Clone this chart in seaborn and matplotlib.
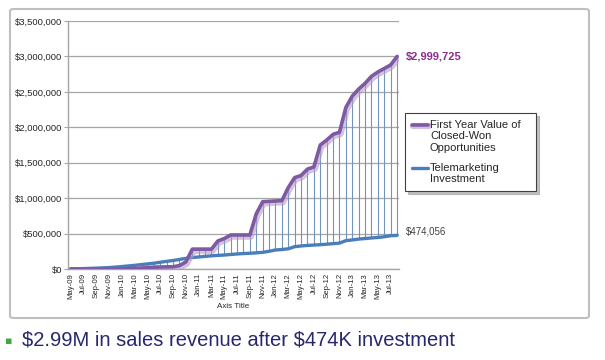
import matplotlib
matplotlib.use("Agg")
import matplotlib.pyplot as plt
import matplotlib.patheffects as pe
from matplotlib.patches import FancyBboxPatch
import numpy as np
import pandas as pd
import seaborn as sns

# monthly categories May-09 .. Aug-13
months = pd.date_range("2009-05-01", periods=52, freq="MS").strftime("%b-%y").tolist()

closed_won = [0, 0, 0, 0, 0, 0, 0, 0, 0, 5000,
              8000, 12000, 20000, 25000, 28000, 30000, 32000, 48000, 100000, 280000,
              280000, 280000, 280000, 395000, 430000, 480000, 480000, 480000, 480000, 780000,
              950000, 955000, 960000, 965000, 1150000, 1290000, 1320000, 1410000, 1440000, 1750000,
              1820000, 1900000, 1930000, 2280000, 2440000, 2540000, 2620000, 2720000, 2780000, 2830000,
              2880000, 2999725]

telemarketing = [0, 3000, 6000, 9000, 12000, 16000, 20000, 27000, 35000, 43000,
                 52000, 62000, 72000, 82000, 95000, 108000, 120000, 135000, 150000, 162000,
                 170000, 178000, 186000, 192000, 197000, 205000, 212000, 218000, 222000, 228000,
                 235000, 250000, 268000, 275000, 285000, 315000, 325000, 332000, 338000, 343000,
                 350000, 358000, 365000, 400000, 410000, 422000, 430000, 438000, 445000, 455000,
                 470000, 474056]

yticks = [0, 500000, 1000000, 1500000, 2000000, 2500000, 3000000, 3500000]

df = pd.DataFrame({"idx": np.arange(len(months)), "month": months,
                   "closed": closed_won, "tele": telemarketing})

sns.set_style("white")
plt.rcParams["font.family"] = ["Liberation Sans", "DejaVu Sans"]

fig = plt.figure(figsize=(6.05, 3.6), dpi=100)
fig.patch.set_facecolor("white")

# chart frame
frame = FancyBboxPatch((10 / 605, 1 - 318 / 360), 579 / 605, 309 / 360,
                       boxstyle="round,pad=0,rounding_size=0.006",
                       transform=fig.transFigure, facecolor="none",
                       edgecolor="#BFBFBF", linewidth=1.5, zorder=-1)
fig.patches.append(frame)

ax = fig.add_axes([68 / 605, 1 - 269 / 360, 331 / 605, 248 / 360])
ax.set_facecolor("none")

# high-low lines
ax.vlines(df["idx"], df["tele"], df["closed"], color="#6F95BE", linewidth=0.8, zorder=1)

sns.lineplot(data=df, x="idx", y="closed", ax=ax, color="#7E5AA2", linewidth=2.6,
             label="First Year Value of\nClosed-Won\nOpportunities", zorder=3,
             path_effects=[pe.SimpleLineShadow(offset=(0.8, -1.2), shadow_color="#B79BCB", alpha=0.6, linewidth=4.5),
                           pe.Normal()])
sns.lineplot(data=df, x="idx", y="tele", ax=ax, color="#4A7EBB", linewidth=2.4,
             label="Telemarketing\nInvestment", zorder=2)

ax.set_xlim(-0.42, 51.3)
ax.set_ylim(0, 3500000)
ax.set_yticks(yticks)
ax.set_yticklabels(["\\${:,.0f}".format(v) for v in yticks], fontsize=6.8, color="#262626")
ax.set_xticks(df["idx"][::2])
ax.set_xticklabels(df["month"][::2], rotation=90, fontsize=5.6, color="#262626")
ax.yaxis.grid(True, color="#A6A6A6", linewidth=0.9)
ax.xaxis.grid(False)
ax.tick_params(axis="y", length=3, width=0.8, color="#A6A6A6", pad=1, left=True)
ax.tick_params(axis="x", length=0, pad=3)
for s in ["top", "right"]:
    ax.spines[s].set_visible(False)
for s in ["left", "bottom"]:
    ax.spines[s].set_color("#A6A6A6")
    ax.spines[s].set_linewidth(1.0)
ax.set_ylabel("")
ax.set_xlabel("Axis Title", fontsize=5.8, color="#262626", labelpad=3)

ax.annotate("\\${:,.0f}".format(closed_won[-1]), xy=(1.02, closed_won[-1]), xycoords=ax.get_yaxis_transform(),
            color="#8E2A8E", fontsize=8, fontweight="bold", va="center", ha="left")
ax.annotate("\\${:,.0f}".format(telemarketing[-1]), xy=(1.02, telemarketing[-1]), xycoords=ax.get_yaxis_transform(),
            xytext=(0, 3), textcoords="offset points",
            color="#404040", fontsize=7, va="center", ha="left")

leg = ax.legend(loc="upper left", bbox_to_anchor=(405 / 605, 1 - 113 / 360, 131 / 605, 0),
                bbox_transform=fig.transFigure, mode="expand", borderaxespad=0, fontsize=8, frameon=True,
                shadow={"color": "#999999", "alpha": 0.6, "ox": 2, "oy": -2},
                fancybox=False, handlelength=1.5, handletextpad=0.15, labelspacing=0.9,
                borderpad=0.6, edgecolor="#404040")
leg.get_frame().set_linewidth(0.8)
# put legend keys next to the first line of each label, as Excel does
for line, shift in zip(leg.get_lines(), [8.4, 4.2]):
    line.set_ydata(np.asarray(line.get_ydata(), dtype=float) + shift)

# slide bullet text
fig.text(5 / 605, 1 - 341 / 360, "\u25aa", color="#3DAA3D", fontsize=8, va="center", ha="left",
         family=["DejaVu Sans"])
fig.text(22 / 605, 1 - 340 / 360, "\\$2.99M in sales revenue after \\$474K investment",
         color="#27276E", fontsize=14.5, va="center", ha="left")

fig.savefig("out.png", dpi=100)
